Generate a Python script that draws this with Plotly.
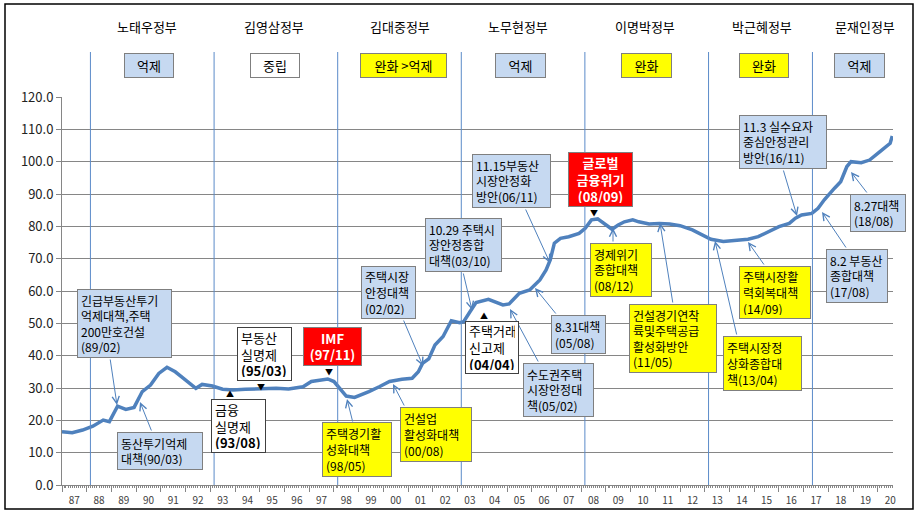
import plotly.graph_objects as go

# 주택매매가격지수 (월별, 그림에서 읽은 값)
dates = ["1987-01", "1987-06", "1987-11", "1988-04", "1988-09", "1988-12",
         "1989-04", "1989-08", "1989-12", "1990-04", "1990-08", "1990-12",
         "1991-04", "1991-08", "1991-12", "1992-06", "1992-09", "1993-02",
         "1993-07", "1993-12", "1994-06", "1995-01", "1995-09", "1996-03",
         "1996-10", "1997-02", "1997-06", "1997-10", "1998-01", "1998-04",
         "1998-07", "1998-11", "1999-02", "1999-06", "1999-11", "2000-04",
         "2000-10", "2001-03", "2001-06", "2001-08", "2001-11", "2002-02",
         "2002-06", "2002-10", "2003-02", "2003-04", "2003-07", "2003-10",
         "2004-04", "2004-11", "2005-02", "2005-07", "2005-12", "2006-05",
         "2006-08", "2006-10", "2006-12", "2007-03", "2007-07", "2007-12",
         "2008-03", "2008-06", "2008-09", "2009-01", "2009-04", "2009-07",
         "2009-10", "2010-02", "2010-05", "2010-10", "2011-03", "2011-08",
         "2012-01", "2012-07", "2012-12", "2013-04", "2013-10", "2014-04",
         "2014-10", "2015-03", "2015-08", "2016-01", "2016-06", "2016-09",
         "2016-12", "2017-05", "2017-08", "2017-11", "2018-04", "2018-07",
         "2018-10", "2018-12", "2019-05", "2019-09", "2020-02", "2020-06",
         "2020-07", "2020-08"]
values = [16.5, 16.2, 17.0, 18.2, 20.1, 19.6,
          24.4, 23.4, 24.0, 28.9, 30.9, 34.5,
          36.4, 35.0, 33.0, 29.9, 31.1, 30.6,
          29.6, 29.4, 29.6, 29.7, 29.9, 29.7,
          30.4, 32.0, 32.3, 32.8, 32.0, 29.9,
          27.5, 27.1, 27.8, 28.9, 30.4, 32.0,
          32.7, 33.0, 35.0, 37.6, 39.0, 43.3,
          45.9, 50.8, 50.2, 50.5, 53.5, 56.4,
          57.4, 55.7, 56.0, 59.3, 60.3, 63.4,
          66.5, 69.6, 74.8, 76.3, 76.8, 77.8,
          79.4, 82.0, 82.3, 80.4, 79.1, 80.4,
          81.4, 82.0, 81.4, 80.7, 80.9, 80.7,
          80.2, 78.9, 77.3, 76.0, 75.3, 75.6,
          76.0, 76.8, 78.3, 79.9, 80.9, 82.5,
          83.5, 84.0, 85.6, 88.2, 91.8, 93.8,
          98.5, 100.0, 99.7, 100.5, 103.1, 105.2,
          105.7, 107.9]

# 정부별 시작일, 정책 기조
gov_starts = ["1988-02-25", "1993-02-25", "1998-02-25", "2003-02-25",
              "2008-02-25", "2013-02-25", "2017-05-10"]
gov_names = ["노태우정부", "김영삼정부", "김대중정부", "노무현정부",
             "이명박정부", "박근혜정부", "문재인정부"]
gov_stance = ["억제", "중립", "완화 >억제", "억제", "완화", "완화", "억제"]

BLUE = "#C6D9F1"
YEL = "#FFFF00"
RED = "#FF0000"
stance_color = {"억제": BLUE, "중립": "white", "완화 >억제": YEL, "완화": YEL}

# 화면 좌표 -> 플롯 영역 비율
L, R, T, B = 62, 893, 97, 485
def px(x):
    return (x - L) / (R - L)
def py(y):
    return (B - y) / (B - T)

fig = go.Figure()
fig.add_trace(go.Scatter(x=dates, y=values, mode="lines",
                         line=dict(color="#4F81BD", width=3.5),
                         hoverinfo="skip", showlegend=False))

shapes = []
for d in gov_starts:
    shapes.append(dict(type="line", xref="x", yref="paper", x0=d, x1=d,
                       y0=0, y1=py(52), line=dict(color="#5B8BC9", width=1)))
# 외곽 테두리
shapes.append(dict(type="rect", xref="paper", yref="paper",
                   x0=px(5), x1=px(913), y0=py(509), y1=py(4),
                   line=dict(color="black", width=1.5)))

annotations = []
head_x = [147, 274, 400, 518, 645, 762, 865]
box_c = [149, 275, 403, 520, 646, 764, 859]
box_w = [50, 50, 87, 51, 51, 50, 51]
for name, st, hx, bc, bw in zip(gov_names, gov_stance, head_x, box_c, box_w):
    annotations.append(dict(xref="paper", yref="paper", x=px(hx), y=py(27),
                            xanchor="center", yanchor="middle",
                            text=name, showarrow=False,
                            font=dict(size=13, color="black")))
    annotations.append(dict(xref="paper", yref="paper", x=px(bc), y=py(65),
                            xanchor="center", yanchor="middle",
                            text=st, showarrow=False, bgcolor=stance_color[st],
                            bordercolor="#7F7F7F", borderwidth=1, borderpad=3,
                            width=bw - 8, height=17,
                            font=dict(size=13, color="black")))

# 정책 말풍선: 텍스트, 색, 박스(x0,y0,x1,y1), 화살표(꼬리, 머리)
callouts = [
    ("긴급부동산투기<br>억제대책,주택<br>200만호건설<br>(89/02)", BLUE, (77, 289, 172, 358), (110, 358, 117, 405)),
    ("동산투기억제<br>대책(90/03)", BLUE, (117, 432, 203, 470), (152, 432, 140, 402)),
    ("주택경기활<br>성화대책<br>(98/05)", YEL, (322, 422, 392, 477), (353, 423, 347, 399)),
    ("건설업<br>활성화대책<br>(00/08)", YEL, (400, 407, 472, 462), (405, 407, 393, 384)),
    ("주택시장<br>안정대책<br>(02/02)", BLUE, (361, 266, 416, 319), (403, 319, 423, 366)),
    ("10.29 주택시<br>장안정종합<br>대책(03/10)", BLUE, (425, 218, 502, 272), (463, 272, 472, 310)),
    ("11.15부동산<br>시장안정화<br>방안(06/11)", BLUE, (472, 154, 551, 208), (525, 208, 550, 263)),
    ("8.31대책<br>(05/08)", BLUE, (551, 315, 606, 354), (557, 315, 535, 288)),
    ("수도권주택<br>시장안정대<br>책(05/02)", BLUE, (523, 363, 594, 417), (539, 363, 510, 309)),
    ("경제위기<br>종합대책<br>(08/12)", YEL, (590, 243, 652, 297), (613, 243, 613, 228)),
    ("건설경기연착<br>륙및주택공급<br>활성화방안<br>(11/05)", YEL, (629, 304, 717, 373), (673, 304, 660, 223)),
    ("주택시장정<br>상화종합대<br>책(13/04)", YEL, (723, 336, 802, 391), (737, 336, 715, 241)),
    ("주택시장활<br>력회복대책<br>(14/09)", YEL, (739, 266, 811, 319), (765, 266, 748, 242)),
    ("11.3 실수요자<br>중심안정관리<br>방안(16/11)", BLUE, (739, 115, 827, 169), (783, 169, 797, 216)),
    ("8.27대책<br>(18/08)", BLUE, (850, 194, 906, 232), (868, 194, 851, 172)),
    ("8.2 부동산<br>종합대책<br>(17/08)", BLUE, (826, 249, 888, 303), (847, 249, 822, 212)),
]
for text, col, (x0, y0, x1, y1), (tx, ty, hx, hy) in callouts:
    annotations.append(dict(xref="x domain", yref="y domain", axref="x domain", ayref="y domain",
                            x=px(hx), y=py(hy), ax=px(tx), ay=py(ty), text="",
                            showarrow=True, arrowhead=5, arrowsize=1.4,
                            arrowwidth=1, arrowcolor="#4F81BD"))
    annotations.append(dict(xref="paper", yref="paper", x=px(x0), y=py(y0),
                            xanchor="left", yanchor="top", text=text, showarrow=False,
                            align="left", bgcolor=col, bordercolor="#7F7F7F",
                            borderwidth=1, borderpad=3, width=x1 - x0 - 8,
                            height=y1 - y0 - 8, font=dict(size=12, color="black")))

# 주요 사건 (삼각형 표시)
events = [
    ("금융<br>실명제<br><b>(93/08)</b>", "white", "black", (211, 399, 266, 453), "▲", (230, 393)),
    ("부동산<br>실명제<br><b>(95/03)</b>", "white", "black", (237, 327, 292, 381), "▼", (261, 386)),
    ("<b>IMF<br>(97/11)</b>", RED, "white", (303, 327, 362, 366), "▼", (329, 371)),
    ("주택거래<br>신고제<br><b>(04/04)</b>", "white", "black", (465, 321, 519, 374), "▲", (484, 315)),
    ("<b>글로벌<br>금융위기<br>(08/09)</b>", RED, "white", (568, 152, 633, 207), "▼", (594, 212)),
]
for text, bg, fc, (x0, y0, x1, y1), tri, (mx, my) in events:
    annotations.append(dict(xref="paper", yref="paper", x=px(x0), y=py(y0),
                            xanchor="left", yanchor="top", text=text, showarrow=False,
                            align="left" if bg == "white" else "center",
                            bgcolor=bg, bordercolor="#404040" if bg == "white" else "#7F7F7F",
                            borderwidth=1, borderpad=3, width=x1 - x0 - 8,
                            height=y1 - y0 - 8, font=dict(size=13, color=fc)))
    annotations.append(dict(xref="paper", yref="paper", x=px(mx), y=py(my),
                            xanchor="center", yanchor="middle",
                            text=tri, showarrow=False, font=dict(size=8, color="black")))

fig.update_layout(
    width=918, height=514,
    margin=dict(l=L, r=918 - R, t=T, b=514 - B),
    paper_bgcolor="white", plot_bgcolor="white",
    font=dict(family="Noto Sans CJK KR", color="black"),
    shapes=shapes, annotations=annotations,
    xaxis=dict(type="date", range=["1987-01-01", "2020-08-12"],
               tick0="1987-01-01", dtick="M12", tickformat="%y",
               ticklabelmode="period", ticks="outside", ticklen=6,
               tickcolor="#868686", showline=True, linecolor="#868686",
               showgrid=False, zeroline=False, automargin=False,
               tickfont=dict(size=10, color="#404040"),
               minor=dict(dtick="M1", ticks="outside", ticklen=2, tickcolor="#868686")),
    yaxis=dict(range=[0, 120], dtick=10, tickformat=".1f", showgrid=True,
               gridcolor="#868686", gridwidth=1, ticks="outside", ticklen=5,
               tickcolor="#868686", showline=True, linecolor="#868686",
               zeroline=False, automargin=False,
               tickfont=dict(size=13, color="#222222")),
)

fig.write_html("out.html", config={"displayModeBar": False},
               post_script="document.body.style.margin='0';")
